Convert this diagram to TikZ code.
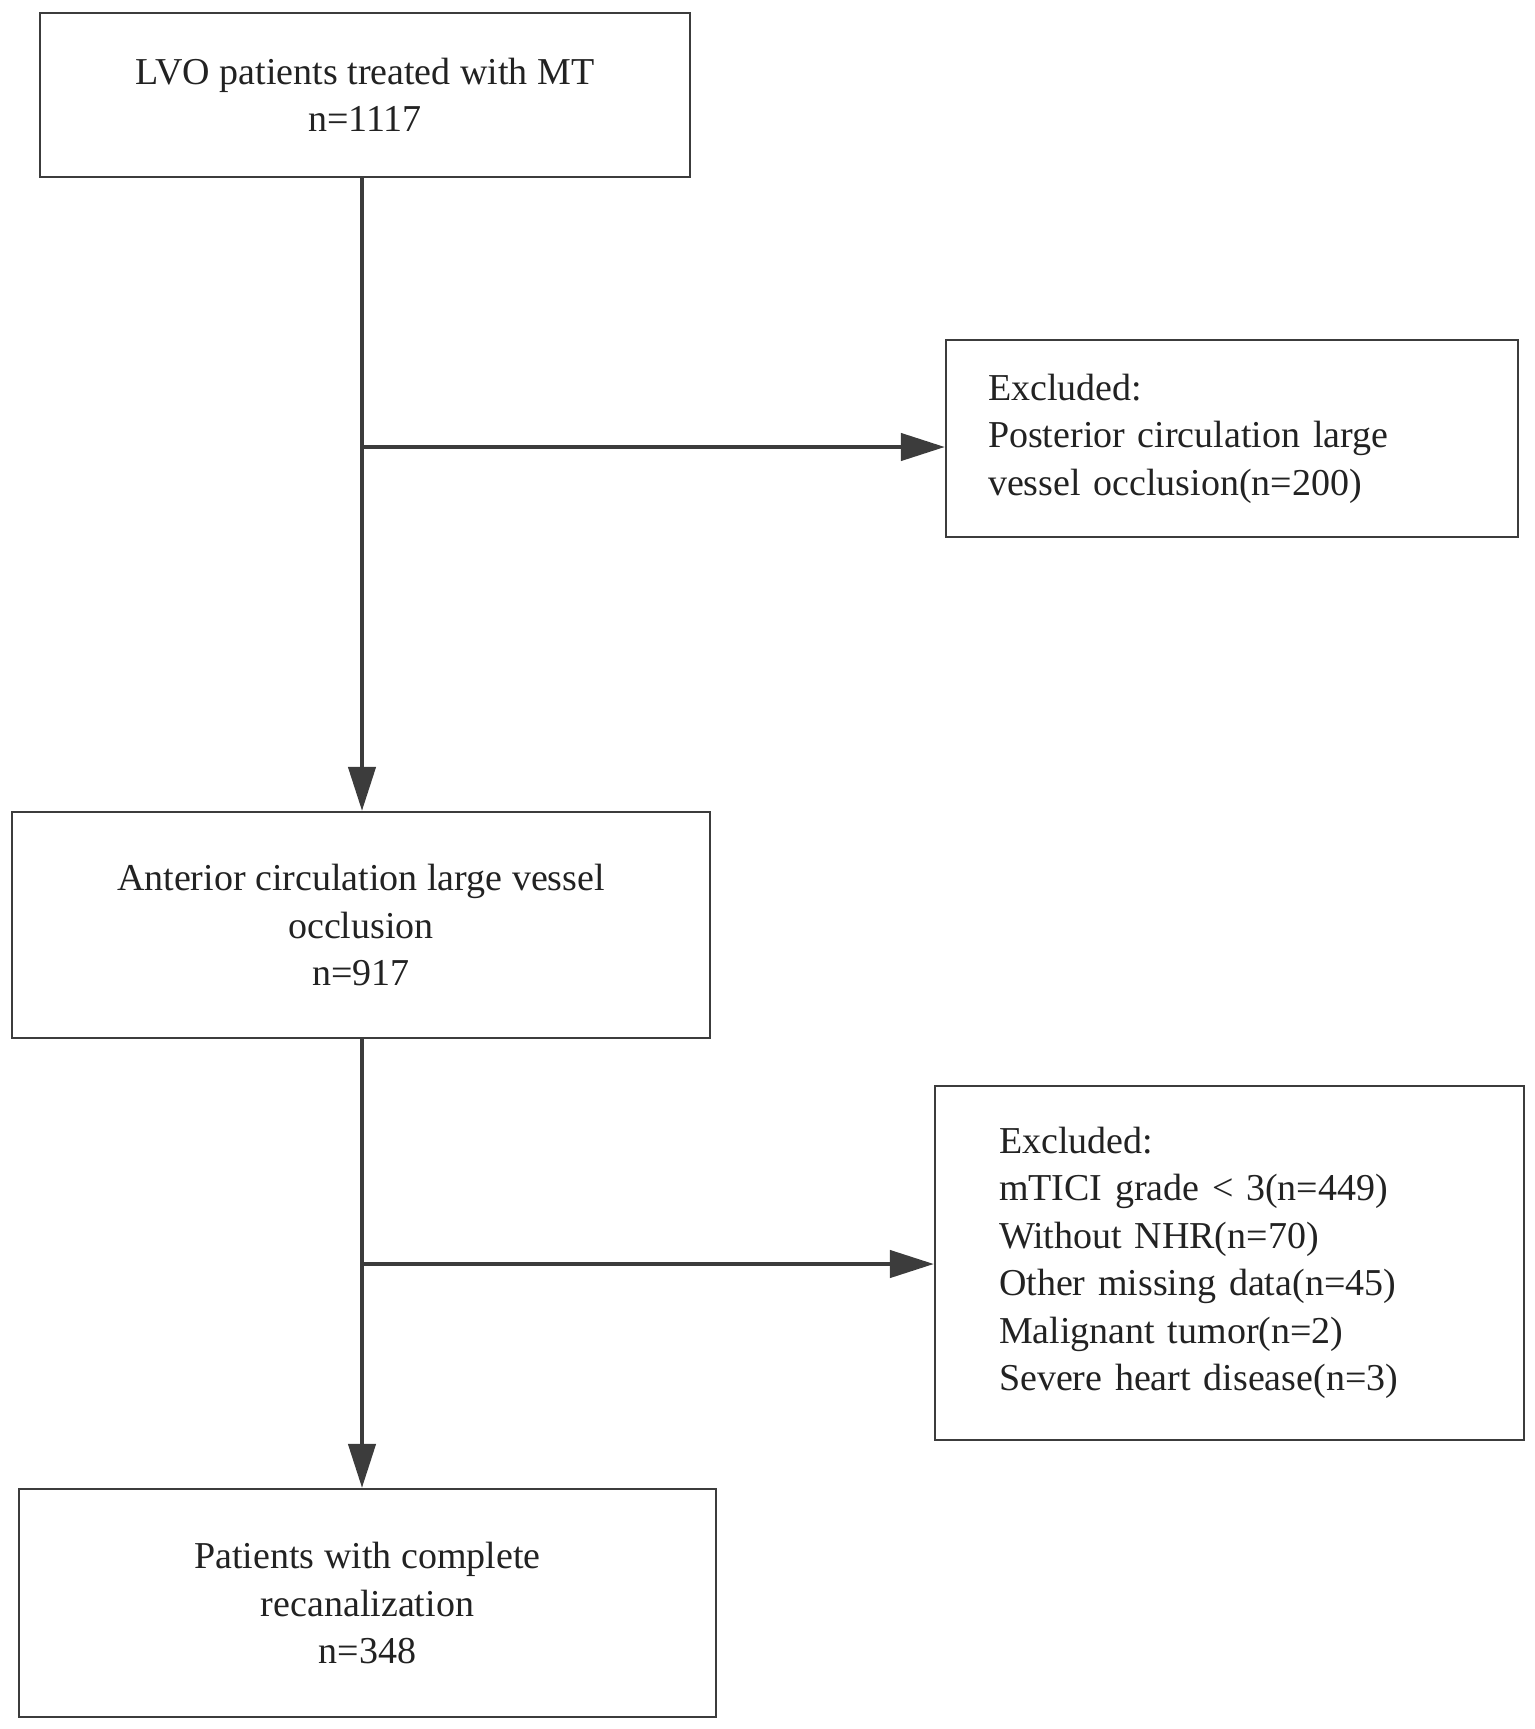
\documentclass[tikz,border=0pt]{standalone}
\usepackage{fontspec}
\setmainfont{Liberation Serif}
\usetikzlibrary{arrows.meta}
\definecolor{linegray}{HTML}{3C3C3C}
\definecolor{textgray}{HTML}{222222}

\begin{document}
\begin{tikzpicture}[x=0.5pt,y=-0.5pt]
	\tikzstyle{every node}+=[inner sep=0pt,text=textgray,font=\fontsize{19}{23.75}\selectfont]
	\tikzstyle{box}=[draw=linegray,line width=1.1pt,align=center]
	\tikzstyle{exbox}=[draw=linegray,line width=1.1pt,align=left]
	\tikzstyle{arr}=[draw=linegray,line width=2.2pt,-{Triangle[length=22pt,width=13.5pt]}]
	\useasboundingbox (0,0) rectangle (1535,1729);
	\node [box,minimum width=325pt,minimum height=82pt] (lvo) at (365,95) {LVO patients treated with MT\\n=1117};
	\node [exbox,text width=244pt,inner xsep=21pt,minimum height=98.5pt] (excl1) at (1232,438.5) {Excluded:\\Posterior circulation large\\vessel occlusion(n=200)};
	\node [box,minimum width=349pt,minimum height=113pt] (acl) at (361,925) {Anterior circulation large vessel\\occlusion\\n=917};
	\node [exbox,text width=230.5pt,inner xsep=32pt,minimum height=177pt] (excl2) at (1229.5,1263) {Excluded:\\mTICI grade < 3(n=449)\\Without NHR(n=70)\\Other missing data(n=45)\\Malignant tumor(n=2)\\Severe heart disease(n=3)};
	\node [box,minimum width=348.5pt,minimum height=114pt] (recan) at (367.5,1603) {Patients with complete\\recanalization\\n=348};
	\coordinate (j1) at (362,447);
	\coordinate (j2) at (362,1264);
	\draw [arr] (lvo.south -| j1) -- (acl.north -| j1);
	\draw [arr] (j1) -- (j1 -| excl1.west);
	\draw [arr] (acl.south -| j2) -- (recan.north -| j2);
	\draw [arr] (j2) -- (j2 -| excl2.west);
\end{tikzpicture}
\end{document}
